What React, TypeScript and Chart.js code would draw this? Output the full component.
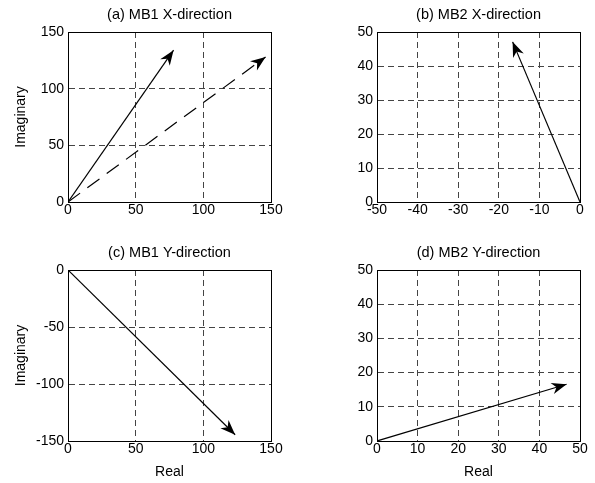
import React, { useEffect, useRef } from "react";
import { Chart, registerables } from "chart.js";

Chart.register(...registerables);

const FONT = "'Liberation Sans', Arial, Helvetica, sans-serif";

// ---- Text ----
const panelTitles = ["(a) MB1 X-direction", "(b) MB2 X-direction", "(c) MB1 Y-direction", "(d) MB2 Y-direction"];
const xAxisLabel = "Real";
const yAxisLabel = "Imaginary";

// ---- Data (real, imaginary) ----
const aSolidReal = [0, 78];
const aSolidImag = [0, 134];
const aDashedReal = [0, 146];
const aDashedImag = [0, 128];
const bReal = [0, -16.6];
const bImag = [0, 47.1];
const cReal = [0, 123.5];
const cImag = [0, -144.5];
const dReal = [0, 46.7];
const dImag = [0, 16.6];

// ---- Tick values ----
const aXTicks = [0, 50, 100, 150];
const aYTicks = [0, 50, 100, 150];
const bXTicks = [-50, -40, -30, -20, -10, 0];
const bYTicks = [0, 10, 20, 30, 40, 50];
const cXTicks = [0, 50, 100, 150];
const cYTicks = [-150, -100, -50, 0];
const dXTicks = [0, 10, 20, 30, 40, 50];
const dYTicks = [0, 10, 20, 30, 40, 50];

const toPoints = (xs: number[], ys: number[]) => xs.map((x, i) => ({ x, y: ys[i] }));

const arrowPlugin = {
  id: "arrowHeads",
  afterDatasetsDraw(chart: any) {
    const ctx = chart.ctx;
    chart.data.datasets.forEach((ds: any, i: number) => {
      if (!ds.arrow) return;
      const meta = chart.getDatasetMeta(i);
      const pts = meta.data;
      if (pts.length < 2) return;
      const p0 = pts[pts.length - 2];
      const p1 = pts[pts.length - 1];
      const ang = Math.atan2(p1.y - p0.y, p1.x - p0.x);
      const len = 15;
      const half = 5.8;
      const notch = 10.5;
      const ux = Math.cos(ang);
      const uy = Math.sin(ang);
      const px = -uy;
      const py = ux;
      ctx.save();
      ctx.fillStyle = "#000";
      ctx.beginPath();
      ctx.moveTo(p1.x, p1.y);
      ctx.lineTo(p1.x - ux * len + px * half, p1.y - uy * len + py * half);
      ctx.lineTo(p1.x - ux * notch, p1.y - uy * notch);
      ctx.lineTo(p1.x - ux * len - px * half, p1.y - uy * len - py * half);
      ctx.closePath();
      ctx.fill();
      ctx.restore();
    });
  },
};

const boxPlugin = {
  id: "boxFrame",
  afterDraw(chart: any) {
    const { left, right, top, bottom } = chart.chartArea;
    const ctx = chart.ctx;
    ctx.save();
    ctx.strokeStyle = "#000";
    ctx.lineWidth = 1;
    ctx.setLineDash([]);
    const l = Math.round(left) + 0.5;
    const t = Math.round(top) + 0.5;
    const r = Math.round(right) + 0.5;
    const b = Math.round(bottom) + 0.5;
    ctx.strokeRect(l, t, r - l, b - t);
    ctx.restore();
  },
};

// Panel title centred over the plot box (as in the reference)
const panelTitlePlugin = {
  id: "panelTitle",
  afterDraw(chart: any, _args: any, opts: any) {
    if (!opts || !opts.text) return;
    const { left, right } = chart.chartArea;
    const ctx = chart.ctx;
    ctx.save();
    ctx.fillStyle = "#000";
    ctx.font = `normal 14.5px ${FONT}`;
    ctx.textAlign = "center";
    ctx.textBaseline = "middle";
    ctx.fillText(opts.text, (left + right) / 2, opts.y);
    ctx.restore();
  },
};

type PanelProps = {
  left: number;
  top: number;
  width: number;
  height: number;
  title: string;
  titleY: number;
  plotTop: number;
  yAxisWidth: number;
  xAxisHeight: number;
  padRight: number;
  xTicks: number[];
  yTicks: number[];
  showXTitle: boolean;
  showYTitle: boolean;
  datasets: any[];
};

function Panel(props: PanelProps) {
  const ref = useRef<HTMLCanvasElement | null>(null);
  useEffect(() => {
    if (!ref.current) return;
    const font = { family: FONT, size: 14, weight: "normal" as const, lineHeight: 1.2 };
    const gridCommon = { color: "#444", lineWidth: 1, drawTicks: false, borderDash: [6, 4] };
    const borderCommon = { display: true, color: "#000", width: 1, dash: [6, 4] };
    const xT = props.xTicks;
    const yT = props.yTicks;
    const chart = new Chart(ref.current, {
      type: "scatter",
      data: { datasets: props.datasets },
      options: {
        responsive: false,
        animation: false,
        events: [],
        layout: { padding: { left: 0, right: props.padRight, top: props.plotTop, bottom: 0 } },
        plugins: {
          legend: { display: false },
          tooltip: { enabled: false },
          title: { display: false },
          panelTitle: { text: props.title, y: props.titleY },
        },
        scales: {
          x: {
            type: "linear",
            position: "bottom",
            min: xT[0],
            max: xT[xT.length - 1],
            ticks: { stepSize: xT[1] - xT[0], color: "#000", font, padding: 0, maxRotation: 0, autoSkip: false },
            grid: gridCommon as any,
            border: borderCommon as any,
            title: {
              display: props.showXTitle,
              text: xAxisLabel,
              color: "#000",
              font,
              padding: { top: 0, bottom: 2 },
            },
            afterFit: (s: any) => {
              s.height = props.xAxisHeight;
            },
          },
          y: {
            type: "linear",
            position: "left",
            min: yT[0],
            max: yT[yT.length - 1],
            ticks: { stepSize: yT[1] - yT[0], color: "#000", font, padding: 4, autoSkip: false },
            grid: gridCommon as any,
            border: borderCommon as any,
            title: {
              display: props.showYTitle,
              text: yAxisLabel,
              color: "#000",
              font,
              padding: { top: 13, bottom: 0 },
            },
            afterFit: (s: any) => {
              s.width = props.yAxisWidth;
            },
          },
        },
      } as any,
      plugins: [arrowPlugin, boxPlugin, panelTitlePlugin],
    });
    return () => chart.destroy();
  }, []);
  return (
    <canvas
      ref={ref}
      width={props.width}
      height={props.height}
      style={{ position: "absolute", left: props.left, top: props.top, width: props.width, height: props.height }}
    />
  );
}

const solidStyle = { borderColor: "#000", borderWidth: 1.2, pointRadius: 0, showLine: true, fill: false, arrow: true };

export default function App() {
  return (
    <div style={{ position: "absolute", left: 0, top: 0, width: 595, height: 483, background: "#fff" }}>
      <Panel
        left={0}
        top={0}
        width={297}
        height={241}
        title={panelTitles[0]}
        titleY={15}
        plotTop={32}
        yAxisWidth={68}
        xAxisHeight={39}
        padRight={26}
        xTicks={aXTicks}
        yTicks={aYTicks}
        showXTitle={false}
        showYTitle={true}
        datasets={[
          { ...solidStyle, data: toPoints(aSolidReal, aSolidImag) },
          { ...solidStyle, borderDash: [15, 9], data: toPoints(aDashedReal, aDashedImag) },
        ]}
      />
      <Panel
        left={297}
        top={0}
        width={298}
        height={241}
        title={panelTitles[1]}
        titleY={15}
        plotTop={32}
        yAxisWidth={80}
        xAxisHeight={39}
        padRight={15}
        xTicks={bXTicks}
        yTicks={bYTicks}
        showXTitle={false}
        showYTitle={false}
        datasets={[{ ...solidStyle, data: toPoints(bReal, bImag) }]}
      />
      <Panel
        left={0}
        top={241}
        width={297}
        height={242}
        title={panelTitles[2]}
        titleY={11.7}
        plotTop={29}
        yAxisWidth={68}
        xAxisHeight={42}
        padRight={26}
        xTicks={cXTicks}
        yTicks={cYTicks}
        showXTitle={true}
        showYTitle={true}
        datasets={[{ ...solidStyle, data: toPoints(cReal, cImag) }]}
      />
      <Panel
        left={297}
        top={241}
        width={298}
        height={242}
        title={panelTitles[3]}
        titleY={11.7}
        plotTop={29}
        yAxisWidth={80}
        xAxisHeight={42}
        padRight={15}
        xTicks={dXTicks}
        yTicks={dYTicks}
        showXTitle={true}
        showYTitle={false}
        datasets={[{ ...solidStyle, data: toPoints(dReal, dImag) }]}
      />
    </div>
  );
}
